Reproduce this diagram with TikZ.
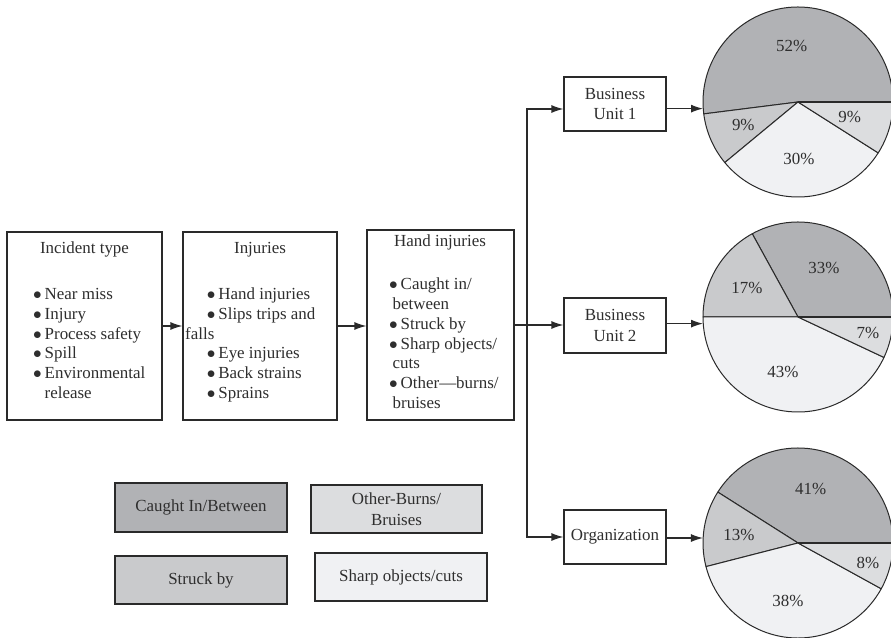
\documentclass[tikz,border=0pt]{standalone}
\usepackage{fontspec}
\setmainfont{Liberation Serif}
\usetikzlibrary{arrows.meta}

% slice shades
\definecolor{caughtc}{HTML}{B1B2B5}
\definecolor{struckc}{HTML}{C9CACC}
\definecolor{otherc}{HTML}{DCDDDF}
\definecolor{sharpc}{HTML}{F0F1F3}
\definecolor{inkc}{HTML}{2A2A2A}
\definecolor{textc}{HTML}{2E2E2E}

% bullet with a fixed slot so the item text lines up
\newcommand{\lbul}{\makebox[11.5bp][l]{$\bullet$}}
% one pie slice: centre, start angle, end angle, fill
\newcommand{\pieslice}[4]{%
  \filldraw[fill=#4, draw=inkc, line width=1bp, line join=round]
    (#1) -- ++(#2:95) arc[start angle=#2, end angle=#3, radius=95] -- cycle;}

\begin{document}
\begin{tikzpicture}[x=1bp, y=1bp,
  every node/.style={font=\fontsize{17}{21}\selectfont, text=textc},
  box/.style={draw=inkc, line width=1.2bp, fill=white, inner sep=0pt},
  conn/.style={draw=inkc, line width=1.2bp},
  arr/.style={conn, -{Latex[length=12bp, width=8bp]}},
  pielabel/.style={inner sep=0pt},
  pieframe/.style={circle, minimum size=190bp, inner sep=0pt},
  listtext/.style={anchor=base west, inner sep=0pt}]

\useasboundingbox (0,0) rectangle (891,638);
\clip (0,0) rectangle (891,638);

% ---- flow boxes ----
\node[box, minimum width=155bp, minimum height=188bp] (incident) at (84.5,312) {};
\node[box, minimum width=154bp, minimum height=188bp] (injuries) at (260,312) {};
\node[box, minimum width=147bp, minimum height=190bp] (hand) at (440.5,313) {};

\node[anchor=base, inner sep=0pt] (incidenttitle) at (84.5,384) {Incident type};
\node[anchor=base, inner sep=0pt] (injuriestitle) at (260,384) {Injuries};
\node[anchor=base, inner sep=0pt] (handtitle) at (440,391) {Hand injuries};

\node[listtext] (incidentlist) at (33,338.5) {%
  \begin{minipage}[t]{128bp}\fontsize{17}{19.9}\selectfont\noindent
  \lbul Near miss\\
  \lbul Injury\\
  \lbul Process safety\\
  \lbul Spill\\
  \lbul Environmental\\
  \hspace*{11.5bp}release
  \end{minipage}};

\node[listtext] (injurieslist) at (185,338.5) {%
  \begin{minipage}[t]{150bp}\fontsize{17}{19.9}\selectfont\noindent
  \hspace*{21.7bp}\lbul Hand injuries\\
  \hspace*{21.7bp}\lbul Slips trips and\\
  falls\\
  \hspace*{21.7bp}\lbul Eye injuries\\
  \hspace*{21.7bp}\lbul Back strains\\
  \hspace*{21.7bp}\lbul Sprains
  \end{minipage}};

\node[listtext] (handlist) at (389,348) {%
  \begin{minipage}[t]{122bp}\fontsize{17}{19.8}\selectfont\noindent
  \lbul Caught in/\\
  \hspace*{3.5bp}between\\
  \lbul Struck by\\
  \lbul Sharp objects/\\
  \hspace*{3.5bp}cuts\\
  \lbul Other\textemdash burns/\\
  \hspace*{3.5bp}bruises
  \end{minipage}};

\node[box, minimum width=102bp, minimum height=54bp, align=center] (bu1) at (615,534) {Business\\Unit 1};
\node[box, minimum width=102bp, minimum height=55bp, align=center] (bu2) at (615,312.5) {Business\\Unit 2};
\node[box, minimum width=102bp, minimum height=54bp] (org) at (615,101) {Organization};

% ---- pies ----
\node[pieframe] (pie1) at (798,536) {};
\node[pieframe] (pie2) at (798,321) {};
\node[pieframe] (pie3) at (798,95) {};

\pieslice{pie1.center}{0}{187.2}{caughtc}
\pieslice{pie1.center}{187.2}{219.6}{struckc}
\pieslice{pie1.center}{219.6}{327.6}{sharpc}
\pieslice{pie1.center}{327.6}{360}{otherc}
\draw[inkc, line width=2bp] (pie1.center) -- (pie1.0);

\pieslice{pie2.center}{0}{118.8}{caughtc}
\pieslice{pie2.center}{118.8}{180}{struckc}
\pieslice{pie2.center}{180}{334.8}{sharpc}
\pieslice{pie2.center}{334.8}{360}{otherc}
\draw[inkc, line width=2bp] (pie2.center) -- (pie2.0);

\pieslice{pie3.center}{0}{147.6}{caughtc}
\pieslice{pie3.center}{147.6}{194.4}{struckc}
\pieslice{pie3.center}{194.4}{331.2}{sharpc}
\pieslice{pie3.center}{331.2}{360}{otherc}
\draw[inkc, line width=2bp] (pie3.center) -- (pie3.0);

\node[pielabel] (p1caught) at (791.7,591.7) {52\%};
\node[pielabel] (p1struck) at (743.3,513) {9\%};
\node[pielabel] (p1other) at (849.7,520.7) {9\%};
\node[pielabel] (p1sharp) at (799,479) {30\%};

\node[pielabel] (p2caught) at (824,370) {33\%};
\node[pielabel] (p2struck) at (747,350) {17\%};
\node[pielabel] (p2other) at (868,305) {7\%};
\node[pielabel] (p2sharp) at (783,266) {43\%};

\node[pielabel] (p3caught) at (810.7,149.3) {41\%};
\node[pielabel] (p3struck) at (739,103) {13\%};
\node[pielabel] (p3other) at (868,75) {8\%};
\node[pielabel] (p3sharp) at (788,37.3) {38\%};

% ---- connectors ----
\coordinate (split) at (527,313);
\coordinate (upper) at (527,529);
\coordinate (lower) at (527,101);

\draw[arr] (incident.east) -- (injuries.west);
\draw[arr] (injuries.east) -- (hand.west |- injuries.east);
\draw[conn] (hand.east) -- (split);
\draw[arr] (lower) -- (upper) -- (bu1.west |- upper);
\draw[arr] (upper) -- (lower) -- (org.west |- lower);
\draw[arr] (split) -- (bu2.west |- split);

\draw[arr] (bu1.east |- pie1.184) -- (pie1.184);
\draw[arr] (bu2.east |- pie2.184) -- (pie2.184);
\draw[arr] (org.east |- pie3.177) -- (pie3.177);

% ---- legend ----
\node[box, fill=caughtc, minimum width=172bp, minimum height=49bp] (lgcaught) at (201,130.5) {Caught In/Between};
\node[box, fill=otherc, minimum width=171bp, minimum height=48bp, align=center] (lgother) at (396.5,129) {Other-Burns/\\Bruises};
\node[box, fill=struckc, minimum width=172bp, minimum height=48bp] (lgstruck) at (201,58) {Struck by};
\node[box, fill=sharpc, minimum width=172bp, minimum height=48bp] (lgsharp) at (401,61) {Sharp objects/cuts};

\end{tikzpicture}
\end{document}
